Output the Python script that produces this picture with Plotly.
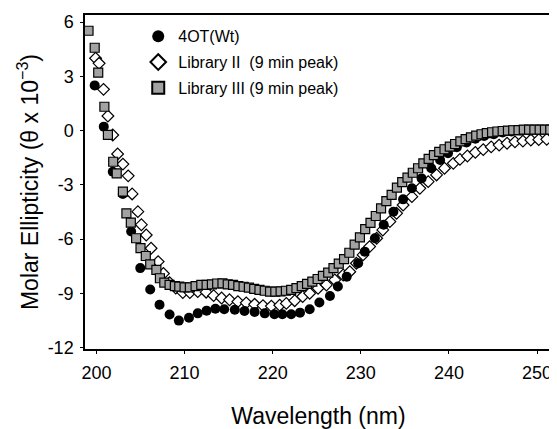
import plotly.graph_objects as go

# 4OT(Wt) - filled circles
wt_wl = [199.8, 200.83, 201.85, 202.99, 203.94, 204.97, 206.1, 207.16, 208.3, 209.35,
         210.5, 211.5, 212.5, 213.5, 214.5, 215.7, 216.8, 217.95, 219.1, 220.2,
         221.1, 222.1, 223.1, 224.2, 225.3, 226.5, 227.4, 228.4, 229.7, 230.45,
         231.6, 232.6, 233.7, 234.8, 235.8, 236.9, 238.0, 239.0, 239.9, 240.9,
         242.0, 243.0, 244.0, 245.1, 246.1, 247.1, 248.1, 249.2, 250.2, 251.2]
wt_val = [2.5, 0.22, -2.27, -3.5, -5.58, -7.6, -8.78, -9.62, -10.16, -10.5,
          -10.34, -10.1, -9.95, -9.85, -9.87, -9.9, -9.97, -10.02, -10.1, -10.15,
          -10.15, -10.15, -10.06, -9.87, -9.5, -9.14, -8.62, -8.07, -7.33, -6.69,
          -5.95, -5.2, -4.48, -3.8, -3.19, -2.64, -2.08, -1.62, -1.25, -0.92,
          -0.65, -0.45, -0.3, -0.2, -0.1, -0.05, 0.0, 0.0, 0.05, 0.05]

# Library II (9 min peak) - open diamonds
lib2_wl = [199.9, 200.3, 200.8, 201.3, 201.85, 202.4, 203.0, 203.6, 204.05, 204.7,
           205.1, 205.65, 206.2, 207.0, 207.6, 208.3, 209.0, 209.8, 210.6, 211.5,
           212.45, 213.3, 214.2, 215.1, 216.05, 217.0, 217.95, 218.9, 219.85, 220.8,
           221.55, 222.5, 223.4, 224.2, 225.15, 226.1, 227.05, 228.0, 228.75, 229.5,
           230.26, 231.0, 231.8, 232.5, 233.3, 234.06, 234.8, 235.8, 236.7, 237.65,
           238.6, 239.5, 240.5, 241.25, 242.1, 243.0, 243.9, 244.8, 245.7, 246.6,
           247.5, 248.4, 249.3, 250.2, 251.1]
lib2_val = [4.0, 3.72, 2.28, 0.81, -0.24, -1.29, -1.85, -2.5, -3.5, -4.48,
            -5.2, -5.77, -6.5, -7.24, -7.9, -8.4, -8.7, -8.95, -8.95, -8.9,
            -8.93, -9.12, -9.25, -9.35, -9.45, -9.52, -9.6, -9.67, -9.7, -9.65,
            -9.55, -9.4, -9.17, -8.99, -8.71, -8.53, -8.25, -7.98, -7.8, -7.33,
            -6.87, -6.41, -5.95, -5.49, -5.03, -4.57, -4.11, -3.65, -3.19, -2.82,
            -2.45, -2.08, -1.81, -1.59, -1.4, -1.2, -1.05, -0.9, -0.8, -0.7,
            -0.62, -0.58, -0.52, -0.5, -0.48]

# Library III (9 min peak) - grey squares
lib3_wl = [199.1, 199.8, 200.2, 200.9, 201.3, 201.9, 202.3, 203.0, 203.4, 203.9,
           204.5, 205.0, 205.6, 206.1, 206.8, 207.2, 207.7, 208.3, 208.9, 209.4,
           210.0, 210.6, 211.25, 211.9, 212.5, 213.1, 213.7, 214.3, 214.9, 215.5,
           216.1, 216.7, 217.3, 217.9, 218.5, 219.1, 219.7, 220.3, 220.9, 221.5,
           222.1, 222.7, 223.3, 223.9, 224.5, 225.1, 225.7, 226.3, 226.9, 227.5,
           228.1, 228.7, 229.3, 229.9, 230.5, 231.1, 231.7, 232.3, 232.9, 233.5,
           234.1, 234.7, 235.3, 235.9, 236.5, 237.1, 237.7, 238.3, 238.9, 239.5,
           240.1, 240.7, 241.3, 241.9, 242.5, 243.1, 243.7, 244.3, 244.9, 245.5,
           246.1, 246.7, 247.3, 247.9, 248.5, 249.1, 249.7, 250.3, 250.9, 251.5]
lib3_val = [5.52, 4.58, 3.2, 1.32, -0.24, -1.72, -2.36, -3.37, -4.57, -5.09,
            -5.95, -6.5, -6.93, -7.39, -7.7, -8.16, -8.4, -8.53, -8.59, -8.62,
            -8.66, -8.66, -8.59, -8.53, -8.53, -8.5, -8.45, -8.44, -8.5, -8.53,
            -8.59, -8.63, -8.68, -8.75, -8.8, -8.85, -8.9, -8.9, -8.88, -8.85,
            -8.8, -8.71, -8.6, -8.47, -8.35, -8.2, -8.03, -7.85, -7.6, -7.35,
            -7.1, -6.75, -6.3, -5.9, -5.45, -5.1, -4.72, -4.3, -3.9, -3.55,
            -3.15, -2.85, -2.6, -2.33, -2.08, -1.81, -1.56, -1.35, -1.18, -1.03,
            -0.89, -0.74, -0.6, -0.47, -0.37, -0.28, -0.2, -0.14, -0.09, -0.05,
            -0.02, 0.0, 0.02, 0.03, 0.05, 0.05, 0.05, 0.05, 0.05, 0.05]

y_ticks = [-12, -9, -6, -3, 0, 3, 6]
y_tick_text = ["-12", "-9", "-6", "-3", "0", "3", "6"]
x_ticks = [200, 210, 220, 230, 240, 250]

FONT = "Liberation Sans, Arial, sans-serif"

fig = go.Figure()
fig.add_trace(go.Scatter(
    x=lib2_wl, y=lib2_val, mode="markers", name="Library II\u00a0 (9 min peak)",
    legendrank=2, legendgroup="b",
    marker=dict(symbol="diamond", size=9, color="white",
                line=dict(color="black", width=1.2))))
fig.add_trace(go.Scatter(
    x=wt_wl, y=wt_val, mode="markers", name="4OT(Wt)",
    legendrank=1, legendgroup="a",
    marker=dict(symbol="circle", size=10, color="black",
                line=dict(color="black", width=0))))
fig.add_trace(go.Scatter(
    x=lib3_wl, y=lib3_val, mode="markers", name="Library III (9 min peak)",
    legendrank=3, legendgroup="c",
    marker=dict(symbol="square", size=9, color="#a2a2a2",
                line=dict(color="black", width=1.2))))

# page body adds an 8px margin, so the figure is sized 8px smaller
fig.update_layout(
    width=549, height=421,
    margin=dict(l=77, r=5, t=7, b=80, autoexpand=False),
    paper_bgcolor="white", plot_bgcolor="white",
    font=dict(family=FONT, color="black"),
    showlegend=True,
    legend=dict(x=0.114, y=0.987, xanchor="left", yanchor="top",
                bgcolor="rgba(0,0,0,0)", borderwidth=0,
                font=dict(size=16, family=FONT), tracegroupgap=2,
                itemsizing="constant"),
    xaxis=dict(range=[198.7, 251.7], tickvals=x_ticks, showgrid=False, zeroline=False,
               showline=True, linecolor="black", linewidth=1.5, mirror=True,
               ticks="outside", ticklen=3, tickcolor="black", automargin=False,
               tickfont=dict(size=18, family=FONT), ticklabelstandoff=4,
               title=dict(text="Wavelength (nm)", font=dict(size=23, family=FONT),
                          standoff=26)),
    yaxis=dict(range=[-12.07, 6.39], tickvals=y_ticks, ticktext=y_tick_text,
               showgrid=False, zeroline=False, automargin=False,
               showline=True, linecolor="black", linewidth=1.5, mirror=True,
               ticks="outside", ticklen=3, tickcolor="black",
               tickfont=dict(size=18, family=FONT), ticklabelstandoff=3,
               title=dict(text="Molar Ellipticity (\u03b8 x 10<sup>\u22123</sup>)",
                          font=dict(size=23, family=FONT), standoff=3)),
)

fig.write_html("out.html")
